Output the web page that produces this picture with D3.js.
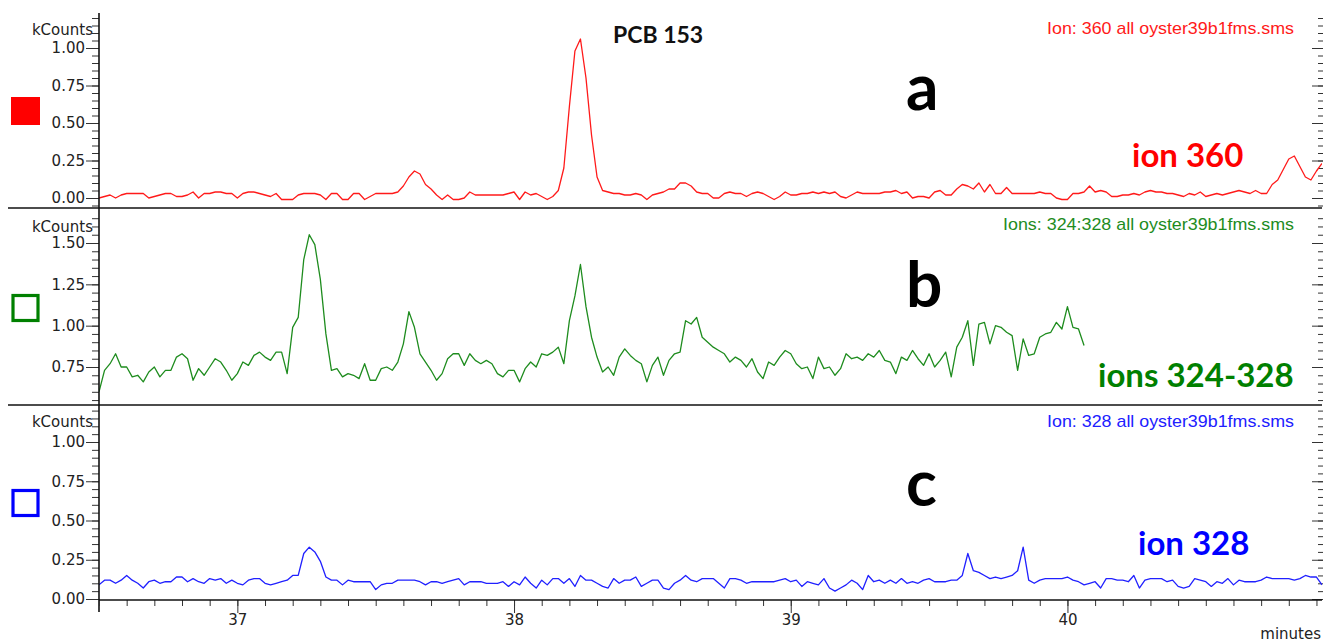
<!DOCTYPE html>
<html>
<head>
<meta charset="utf-8">
<script src="https://d3js.org/d3.v7.min.js"></script>
<style>
  body { margin: 0; background: #fff; }
  svg { display: block; }
  .tick text { font-family: "DejaVu Sans", sans-serif; font-size: 15px; fill: #222; }
  .tick line { stroke: #333; }
</style>
</head>
<body>
<svg id="chart" width="1331" height="642"></svg>
<script>
// scans every 0.02 min, starting at 36.50 min
const tStart = 36.5, tStep = 0.02;

// ion 360 (kCounts)
const ion360 = [
  0.00, 0.01, 0.02, 0.00, 0.02, 0.03, 0.03, 0.03, 0.03, 0.00,
  0.01, 0.02, 0.03, 0.03, 0.01, 0.01, 0.02, 0.04, 0.00, 0.03,
  0.03, 0.04, 0.04, 0.03, 0.03, 0.00, 0.03, 0.04, 0.04, 0.03,
  0.02, 0.01, 0.03, -0.01, -0.01, -0.01, 0.02, 0.03, 0.03, 0.03,
  0.02, -0.01, 0.03, 0.03, -0.01, -0.01, 0.03, 0.03, -0.01, 0.01,
  0.03, 0.03, 0.03, 0.03, 0.04, 0.08, 0.14, 0.18, 0.16, 0.09,
  0.06, 0.02, -0.01, 0.02, -0.01, -0.01, 0.00, 0.04, 0.02, 0.02,
  0.02, 0.02, 0.02, 0.02, 0.03, 0.04, -0.01, 0.04, 0.02, 0.03,
  0.01, -0.01, 0.01, 0.05, 0.20, 0.61, 0.98, 1.06, 0.80, 0.42,
  0.14, 0.05, 0.04, 0.03, 0.03, 0.02, 0.02, 0.03, 0.02, -0.01,
  0.02, 0.03, 0.04, 0.06, 0.06, 0.10, 0.10, 0.08, 0.04, 0.03,
  0.03, 0.00, 0.00, 0.03, 0.04, 0.03, 0.03, 0.01, 0.03, 0.04,
  0.03, 0.01, -0.01, 0.01, 0.04, 0.02, 0.02, 0.03, 0.03, 0.04,
  0.03, 0.04, 0.03, 0.04, 0.01, 0.00, 0.02, 0.04, 0.03, 0.03,
  0.03, 0.03, 0.04, 0.04, 0.05, 0.03, 0.04, 0.00, 0.01, 0.01,
  0.00, 0.04, 0.05, 0.02, 0.02, 0.06, 0.09, 0.08, 0.06, 0.10,
  0.04, 0.09, 0.03, 0.03, 0.07, 0.03, 0.03, 0.03, 0.03, 0.03,
  0.04, 0.03, 0.03, 0.00, -0.01, -0.01, 0.03, 0.03, 0.04, 0.08,
  0.04, 0.05, 0.04, 0.01, 0.01, 0.02, 0.02, 0.03, 0.02, 0.04,
  0.05, 0.04, 0.04, 0.03, 0.03, 0.02, 0.01, 0.03, 0.02, 0.04,
  0.01, 0.02, 0.03, 0.02, 0.03, 0.04, 0.05, 0.04, 0.03, 0.05,
  0.03, 0.03, 0.09, 0.12, 0.19, 0.26, 0.28, 0.21, 0.14, 0.12,
  0.18, 0.23
];

// ions 324:328 (kCounts)
const ions324to328 = [
  0.60, 0.73, 0.77, 0.83, 0.75, 0.75, 0.69, 0.70, 0.66, 0.72,
  0.75, 0.69, 0.73, 0.73, 0.81, 0.83, 0.80, 0.67, 0.74, 0.70,
  0.75, 0.80, 0.78, 0.73, 0.67, 0.71, 0.78, 0.76, 0.82, 0.84,
  0.81, 0.79, 0.84, 0.84, 0.71, 0.99, 1.05, 1.40, 1.55, 1.49,
  1.28, 0.95, 0.73, 0.74, 0.69, 0.71, 0.70, 0.68, 0.77, 0.67,
  0.67, 0.74, 0.75, 0.73, 0.78, 0.89, 1.085, 0.99, 0.83, 0.78,
  0.73, 0.67, 0.71, 0.80, 0.83, 0.83, 0.76, 0.83, 0.79, 0.77,
  0.79, 0.77, 0.71, 0.69, 0.73, 0.73, 0.66, 0.74, 0.78, 0.75,
  0.83, 0.82, 0.84, 0.87, 0.77, 1.03, 1.18, 1.37, 1.115, 0.93,
  0.81, 0.72, 0.75, 0.70, 0.81, 0.86, 0.82, 0.79, 0.77, 0.66,
  0.76, 0.81, 0.70, 0.79, 0.83, 0.84, 1.03, 1.01, 1.05, 0.93,
  0.90, 0.87, 0.85, 0.83, 0.78, 0.81, 0.79, 0.75, 0.80, 0.72,
  0.68, 0.78, 0.76, 0.81, 0.85, 0.83, 0.77, 0.74, 0.75, 0.68,
  0.81, 0.74, 0.75, 0.70, 0.74, 0.83, 0.80, 0.81, 0.79, 0.83,
  0.81, 0.85, 0.79, 0.78, 0.71, 0.81, 0.79, 0.85, 0.80, 0.76,
  0.83, 0.75, 0.79, 0.84, 0.69, 0.87, 0.93, 1.03, 0.76, 1.01,
  1.02, 0.89, 1.00, 0.99, 0.96, 0.94, 0.73, 0.92, 0.82, 0.83,
  0.93, 0.95, 0.96, 1.02, 0.98, 1.115, 0.99, 0.98, 0.88
];

// ion 328 (kCounts)
const ion328 = [
  0.09, 0.12, 0.12, 0.10, 0.12, 0.15, 0.12, 0.10, 0.07, 0.11,
  0.12, 0.10, 0.11, 0.11, 0.14, 0.14, 0.11, 0.13, 0.11, 0.10,
  0.13, 0.12, 0.13, 0.10, 0.12, 0.10, 0.09, 0.12, 0.13, 0.13,
  0.10, 0.09, 0.10, 0.11, 0.12, 0.15, 0.15, 0.29, 0.33, 0.30,
  0.24, 0.14, 0.12, 0.12, 0.09, 0.12, 0.11, 0.11, 0.11, 0.11,
  0.06, 0.09, 0.10, 0.10, 0.12, 0.12, 0.12, 0.12, 0.11, 0.09,
  0.11, 0.11, 0.10, 0.11, 0.12, 0.13, 0.09, 0.11, 0.11, 0.11,
  0.10, 0.10, 0.10, 0.11, 0.08, 0.11, 0.09, 0.14, 0.10, 0.07,
  0.12, 0.09, 0.13, 0.13, 0.10, 0.13, 0.08, 0.15, 0.12, 0.12,
  0.10, 0.08, 0.07, 0.13, 0.10, 0.12, 0.12, 0.14, 0.08, 0.10,
  0.12, 0.12, 0.07, 0.06, 0.10, 0.12, 0.15, 0.12, 0.11, 0.13,
  0.13, 0.13, 0.10, 0.07, 0.13, 0.13, 0.12, 0.10, 0.11, 0.11,
  0.11, 0.11, 0.11, 0.12, 0.13, 0.11, 0.12, 0.08, 0.11, 0.10,
  0.09, 0.13, 0.07, 0.05, 0.07, 0.09, 0.12, 0.10, 0.06, 0.15,
  0.11, 0.12, 0.10, 0.12, 0.10, 0.13, 0.10, 0.11, 0.10, 0.12,
  0.13, 0.11, 0.11, 0.11, 0.12, 0.12, 0.15, 0.29, 0.18, 0.17,
  0.15, 0.13, 0.14, 0.13, 0.14, 0.15, 0.18, 0.33, 0.12, 0.10,
  0.12, 0.13, 0.13, 0.13, 0.13, 0.14, 0.12, 0.11, 0.09, 0.10,
  0.11, 0.07, 0.13, 0.13, 0.12, 0.12, 0.11, 0.15, 0.07, 0.12,
  0.13, 0.13, 0.13, 0.11, 0.12, 0.08, 0.07, 0.08, 0.13, 0.12,
  0.11, 0.08, 0.11, 0.10, 0.13, 0.09, 0.12, 0.11, 0.11, 0.11,
  0.12, 0.14, 0.13, 0.13, 0.13, 0.13, 0.12, 0.13, 0.15, 0.14,
  0.14, 0.09
];

const xMajor = [37, 38, 39, 40];

const panels = [
  { values: ion360, color: "#ff1a1a", labelColor: "#ff0000", domain: [0, 1], range: [198, 48],
    top: 13, bottom: 207, majors: [0, 0.25, 0.5, 0.75, 1.0],
    header: "Ion: 360 all oyster39b1fms.sms", headerY: 34, headerW: 247,
    kY: 35, letter: "a", letterY: 110, ion: "ion 360", ionX: 1132, ionY: 167,
    legendY: 97, filled: true },
  { values: ions324to328, color: "#1e8c1e", labelColor: "#008000", domain: [0.75, 1.5], range: [367, 243],
    top: 210, bottom: 404, majors: [0.75, 1.0, 1.25, 1.5],
    header: "Ions: 324:328 all oyster39b1fms.sms", headerY: 230, headerW: 291,
    kY: 232, letter: "b", letterY: 307, ion: "ions 324-328", ionX: 1098, ionY: 387,
    legendY: 294, filled: false },
  { values: ion328, color: "#2020ff", labelColor: "#0000ff", domain: [0, 1], range: [599, 442],
    top: 407, bottom: 599, majors: [0, 0.25, 0.5, 0.75, 1.0],
    header: "Ion: 328 all oyster39b1fms.sms", headerY: 427, headerW: 247,
    kY: 427, letter: "c", letterY: 506, ion: "ion 328", ionX: 1138, ionY: 555,
    legendY: 489, filled: false }
];

const svg = d3.select("#chart");
const x = d3.scaleLinear().domain([36.5, 40.92]).range([99, 1322]);

svg.append("clipPath").attr("id", "clip")
  .append("rect").attr("x", 99).attr("y", 0).attr("width", 1223).attr("height", 642);

// panel dividers
[208, 405].forEach(yy => {
  svg.append("line").attr("x1", 8).attr("x2", 1322).attr("y1", yy).attr("y2", yy)
    .attr("stroke", "#111").attr("stroke-width", 1.6);
});

panels.forEach(p => {
  const y = d3.scaleLinear().domain(p.domain).range(p.range);
  const lo = y.invert(p.bottom), hi = y.invert(p.top);
  const minors = d3.range(Math.ceil(lo / 0.05 - 1e-6), Math.floor(hi / 0.05 + 1e-6) + 1).map(k => k * 0.05);

  // left axis
  const minorAxis = d3.axisLeft(y).tickValues(minors).tickSize(7).tickFormat("");
  const majorAxis = d3.axisLeft(y).tickValues(p.majors).tickSize(13).tickPadding(1).tickFormat(d3.format(".2f"));
  svg.append("g").attr("transform", "translate(99,0)").call(minorAxis).call(g => g.select(".domain").remove());
  svg.append("g").attr("transform", "translate(99,0)").call(majorAxis).call(g => g.select(".domain").remove());

  // right side ticks
  svg.append("g").attr("transform", "translate(1323,0)")
    .call(d3.axisLeft(y).tickValues(minors).tickSize(5).tickFormat(""))
    .call(g => g.select(".domain").remove());
  svg.append("g").attr("transform", "translate(1323,0)")
    .call(d3.axisLeft(y).tickValues(p.majors).tickSize(11).tickFormat(""))
    .call(g => g.select(".domain").remove());

  svg.append("text").attr("x", 93).attr("y", p.kY).attr("text-anchor", "end")
    .attr("font-family", "DejaVu Sans, sans-serif").attr("font-size", 15).attr("fill", "#222")
    .text("kCounts");

  // trace
  const line = d3.line().x((d, i) => x(tStart + i * tStep)).y(d => y(d));
  svg.append("path").datum(p.values).attr("clip-path", "url(#clip)")
    .attr("fill", "none").attr("stroke", p.color).attr("stroke-width", 1.3)
    .attr("stroke-linejoin", "round").attr("d", line);

  // header
  svg.append("text").attr("x", 1294).attr("y", p.headerY).attr("text-anchor", "end")
    .attr("font-family", "Liberation Sans, Arial, sans-serif").attr("font-size", 17)
    .attr("textLength", p.headerW).attr("lengthAdjust", "spacingAndGlyphs")
    .attr("fill", p.color).text(p.header);

  // legend square
  const sq = svg.append("rect").attr("width", p.filled ? 29 : 25).attr("height", p.filled ? 28 : 25);
  if (p.filled) {
    sq.attr("x", 11).attr("y", p.legendY).attr("fill", p.labelColor);
  } else {
    sq.attr("x", 13).attr("y", p.legendY + 1.5).attr("fill", "none")
      .attr("stroke", p.labelColor).attr("stroke-width", 3.2);
  }

  // big annotations
  svg.append("text").attr("x", 906).attr("y", p.letterY)
    .attr("font-family", "Lato, sans-serif").attr("font-weight", "bold").attr("font-size", 64)
    .attr("fill", "#000").text(p.letter);
  svg.append("text").attr("x", p.ionX).attr("y", p.ionY)
    .attr("font-family", "Lato, sans-serif").attr("font-weight", "bold").attr("font-size", 33)
    .attr("fill", p.labelColor).text(p.ion);
});

// left axis spine
svg.append("line").attr("x1", 99).attr("x2", 99).attr("y1", 13).attr("y2", 612)
  .attr("stroke", "#111").attr("stroke-width", 1.6);

// bottom axis
const xMinor = d3.range(365, 410).map(k => k / 10);
svg.append("g").attr("transform", "translate(0,600)")
  .call(d3.axisBottom(x).tickValues(xMinor).tickSize(6).tickFormat(""))
  .call(g => g.select(".domain").remove());
svg.append("g").attr("transform", "translate(0,600)")
  .call(d3.axisBottom(x).tickValues(xMajor).tickSize(13).tickPadding(1).tickFormat(d3.format("d")))
  .call(g => g.select(".domain").remove());
svg.append("line").attr("x1", 99).attr("x2", 1322).attr("y1", 600).attr("y2", 600)
  .attr("stroke", "#111").attr("stroke-width", 1.6);

svg.append("text").attr("x", 1321).attr("y", 639).attr("text-anchor", "end")
  .attr("font-family", "DejaVu Sans, sans-serif").attr("font-size", 15).attr("fill", "#222")
  .text("minutes");

svg.append("text").attr("x", 613).attr("y", 43)
  .attr("font-family", "Lato, sans-serif").attr("font-weight", "bold").attr("font-size", 23)
  .attr("fill", "#111").text("PCB 153");
</script>
</body>
</html>
